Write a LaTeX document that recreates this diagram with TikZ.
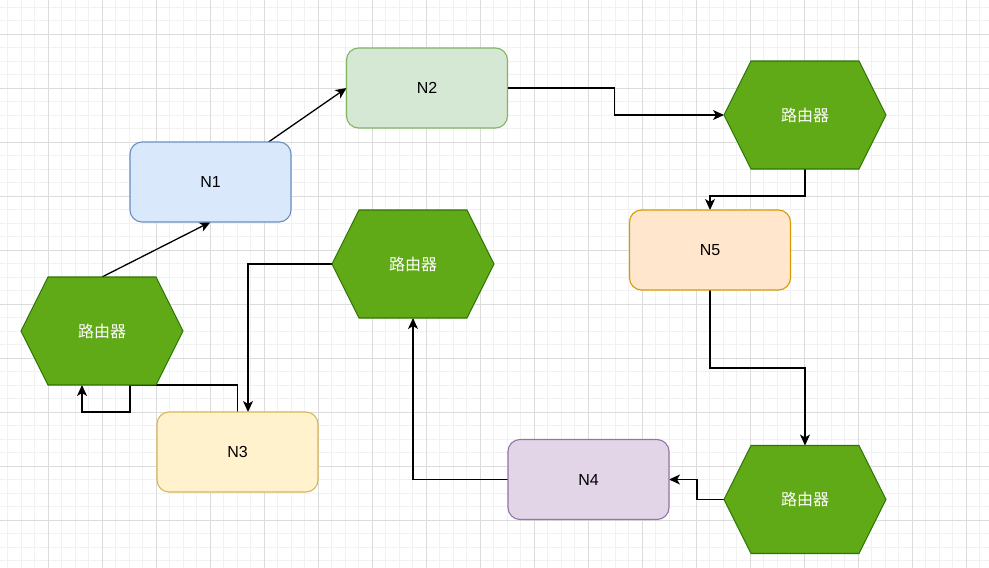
\documentclass[tikz,border=0pt]{standalone}
\usepackage{fontspec}
\setmainfont{Liberation Sans}
\newfontfamily\cjk{Noto Sans CJK SC}
\usetikzlibrary{arrows.meta}
\pgfdeclarelayer{gridlayer}
\pgfdeclarelayer{edgelayer}
\pgfsetlayers{gridlayer,edgelayer,main}
\definecolor{gridminor}{HTML}{F1F1F1}
\definecolor{gridmajor}{HTML}{DCDCDC}
\definecolor{bluefill}{HTML}{DAE8FC}\definecolor{bluestroke}{HTML}{6C8EBF}
\definecolor{greenfill}{HTML}{D5E8D4}\definecolor{greenstroke}{HTML}{82B366}
\definecolor{orangefill}{HTML}{FFE6CC}\definecolor{orangestroke}{HTML}{D79B00}
\definecolor{yellowfill}{HTML}{FFF2CC}\definecolor{yellowstroke}{HTML}{D6B656}
\definecolor{purplefill}{HTML}{E1D5E7}\definecolor{purplestroke}{HTML}{9673A6}
\definecolor{hexfill}{HTML}{60A917}\definecolor{hexstroke}{HTML}{2D7600}
\tikzset{
  box/.style={rectangle, rounded corners=12pt, minimum width=161pt, minimum height=80pt,
    line width=1.1pt, font=\fontsize{16}{18}\selectfont, inner sep=0pt, outer sep=0pt},
  hexbox/.style={rectangle, minimum width=162pt, minimum height=108pt, inner sep=0pt, outer sep=0pt},
  hexshape/.style={fill=hexfill, draw=hexstroke, line width=1.1pt, line join=miter},
  hextext/.style={text=white, font=\cjk\fontsize{16}{18}\selectfont, inner sep=0pt},
  conn/.style={line width=1.3pt, -{Stealth[length=11pt,width=10pt,inset=3pt]}},
  plain/.style={line width=1.3pt},
  minorline/.style={draw=gridminor, line width=1pt},
  majorline/.style={draw=gridmajor, line width=1pt}
}
\newcommand\hexnode[2]{%
  \node[hexbox] (#1) at #2 {};
  \path[hexshape] (#1.west) -- ([xshift=27pt]#1.north west) -- ([xshift=-27pt]#1.north east)
     -- (#1.east) -- ([xshift=-27pt]#1.south east) -- ([xshift=27pt]#1.south west) -- cycle;
  \node[hextext] (#1-t) at (#1) {路由器};
}
\begin{document}
\begin{tikzpicture}[x=1pt,y=-1pt]
\useasboundingbox (0,0) rectangle (989,568);
\begin{pgfonlayer}{gridlayer}
  \fill[white] (0,0) rectangle (989,568);
  \foreach \i in {0,...,72} {\draw[minorline] ({7.8+13.5*\i},0) -- ({7.8+13.5*\i},568);}
  \foreach \i in {0,...,42} {\draw[minorline] (0,{7.3+13.5*\i}) -- (989,{7.3+13.5*\i});}
  \foreach \i in {0,...,18} {\draw[majorline] ({48.3+54*\i},0) -- ({48.3+54*\i},568);}
  \foreach \i in {0,...,10} {\draw[majorline] (0,{34.3+54*\i}) -- (989,{34.3+54*\i});}
\end{pgfonlayer}

\node[box, fill=bluefill, draw=bluestroke] (n1) at (210.5,182) {N1};
\node[box, fill=greenfill, draw=greenstroke] (n2) at (427,88) {N2};
\node[box, fill=orangefill, draw=orangestroke] (n5) at (710,250) {N5};
\node[box, fill=yellowfill, draw=yellowstroke] (n3) at (237.5,452) {N3};
\node[box, fill=purplefill, draw=purplestroke] (n4) at (588.5,479.5) {N4};

\hexnode{hexTR}{(805,115)}
\hexnode{hexM}{(413,264)}
\hexnode{hexL}{(102,331)}
\hexnode{hexBR}{(805,499.5)}

\begin{pgfonlayer}{edgelayer}
  \draw[conn] (hexL.north) -- (n1.south);
  \draw[conn] ([xshift=58pt]n1.north) -- (n2.west);
  \draw[conn] (n2.east) -- ++(107,0) |- (hexTR.west);
  \draw[conn] (hexTR.south) -- ++(0,27) -| (n5.north);
  \draw[conn] (n5.south) -- ++(0,78) -| (hexBR.north);
  \draw[conn] (hexBR.west) -- ++(-27,0) |- (n4.east);
  \draw[conn] (n4.west) -| (hexM.south);
  \draw[conn] (hexM.west) -| ([xshift=10.5pt]n3.north);
  \draw[conn] (n3.north) -- (n3.north |- hexL.south) -- ([xshift=28pt]hexL.south)
     -- ++(0,27) -- ++(-48,0) -- ([xshift=-20pt]hexL.south);
\end{pgfonlayer}
\end{tikzpicture}
\end{document}
